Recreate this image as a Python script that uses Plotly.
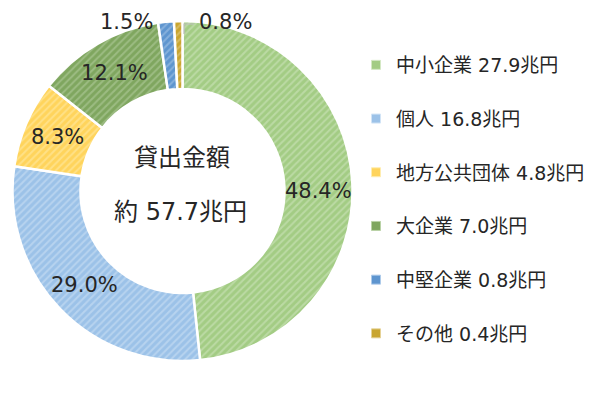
import math
import plotly.graph_objects as go

categories = ["中小企業", "個人", "地方公共団体", "大企業", "中堅企業", "その他"]
amounts = [27.9, 16.8, 4.8, 7.0, 0.8, 0.4]          # 兆円
shares = [48.4, 29.0, 8.3, 12.1, 1.5, 0.8]           # %
total_label = "約 57.7兆円"
center_title = "貸出金額"

base_colors = ["#A3CC84", "#9CC2E8", "#FFD45C", "#7FA65F", "#5E95CF", "#C9A52F"]
stripe_colors = ["#D4E8C4", "#D2E4F6", "#FFEDB0", "#B9D2A6", "#AECBEA", "#E6D296"]
# how each share label is drawn: pie text, computed annotation, or outside annotation
label_mode = ["pie", "ring", "pie", "pie", "left", "right"]

FONT = "DejaVu Sans, Noto Sans CJK JP"
W, H = 610, 410
CX, CY, R_OUT, HOLE = 182.5, 191.0, 170.0, 0.6


def px(x, y):
    return x / W, 1 - y / H


fig = go.Figure()
fig.add_trace(go.Pie(
    labels=categories,
    values=shares,
    text=[f"{s:.1f}%" if m == "pie" else "" for s, m in zip(shares, label_mode)],
    textinfo="text",
    textposition="inside",
    insidetextorientation="horizontal",
    textfont=dict(family=FONT, size=21, color="#262626"),
    hole=HOLE,
    sort=False,
    direction="clockwise",
    rotation=0,
    showlegend=False,
    marker=dict(
        colors=base_colors,
        line=dict(color="white", width=2.5),
        pattern=dict(shape="/", fgcolor=stripe_colors, bgcolor=base_colors,
                     size=5, solidity=0.4, fillmode="overlay"),
    ),
    domain=dict(x=[(CX - R_OUT) / W, (CX + R_OUT) / W],
                y=[1 - (CY + R_OUT) / H, 1 - (CY - R_OUT) / H]),
    hoverinfo="label+value",
))

for i, (c, a) in enumerate(zip(categories, amounts)):
    fig.add_trace(go.Scatter(
        x=[None], y=[None], mode="markers",
        marker=dict(symbol="square", size=9, color=base_colors[i],
                    line=dict(color=stripe_colors[i], width=1)),
        name=f"{c} {a:.1f}兆円",
        legendgroup=f"g{i}",
        showlegend=True,
    ))

# share labels that are not drawn by the pie itself
total = sum(shares)
cum = 0.0
r_mid = R_OUT * (1 + HOLE) / 2
for s, m in zip(shares, label_mode):
    mid = (cum + s / 2) / total * 2 * math.pi
    cum += s
    txt = f"{s:.1f}%"
    if m == "ring":
        x0, y0 = px(CX + r_mid * math.sin(mid), CY - r_mid * math.cos(mid))
        fig.add_annotation(x=x0, y=y0, xref="paper", yref="paper", xanchor="center",
                           yanchor="middle", text=txt, showarrow=False,
                           font=dict(family=FONT, size=21, color="#262626"))
    elif m == "left":
        x0, y0 = px(155, 22)
        fig.add_annotation(x=x0, y=y0, xref="paper", yref="paper", xanchor="right",
                           yanchor="middle", text=txt, showarrow=False,
                           font=dict(family=FONT, size=21, color="#262626"))
    elif m == "right":
        x0, y0 = px(197, 22)
        fig.add_annotation(x=x0, y=y0, xref="paper", yref="paper", xanchor="left",
                           yanchor="middle", text=txt, showarrow=False,
                           font=dict(family=FONT, size=21, color="#262626"))

# center text
x0, y0 = px(182, 158)
fig.add_annotation(x=x0, y=y0, xref="paper", yref="paper", xanchor="center", yanchor="middle",
                   text=center_title, showarrow=False,
                   font=dict(family=FONT, size=24, color="#262626"))
x0, y0 = px(180, 212)
fig.add_annotation(x=x0, y=y0, xref="paper", yref="paper", xanchor="center", yanchor="middle",
                   text=total_label, showarrow=False,
                   font=dict(family=FONT, size=24, color="#262626"))

# leader line for the smallest slice
a = px(184, 34)
b = px(184, 24)
c2 = px(194, 24)
fig.add_shape(type="path", xref="paper", yref="paper",
              path=f"M {a[0]},{a[1]} L {b[0]},{b[1]} L {c2[0]},{c2[1]}",
              line=dict(color="#BFBFBF", width=1.2))

lx, ly = px(356, 46)
fig.update_layout(
    width=W, height=H,
    margin=dict(l=0, r=0, t=0, b=0),
    paper_bgcolor="white", plot_bgcolor="white",
    xaxis=dict(visible=False, domain=[0.6, 0.61]),
    yaxis=dict(visible=False),
    uniformtext=dict(minsize=21, mode="show"),
    legend=dict(x=lx, y=ly, xanchor="left", yanchor="top",
                font=dict(family=FONT, size=19, color="#262626"),
                tracegroupgap=26, itemwidth=30,
                bgcolor="rgba(0,0,0,0)"),
)

fig.write_html("out.html")
